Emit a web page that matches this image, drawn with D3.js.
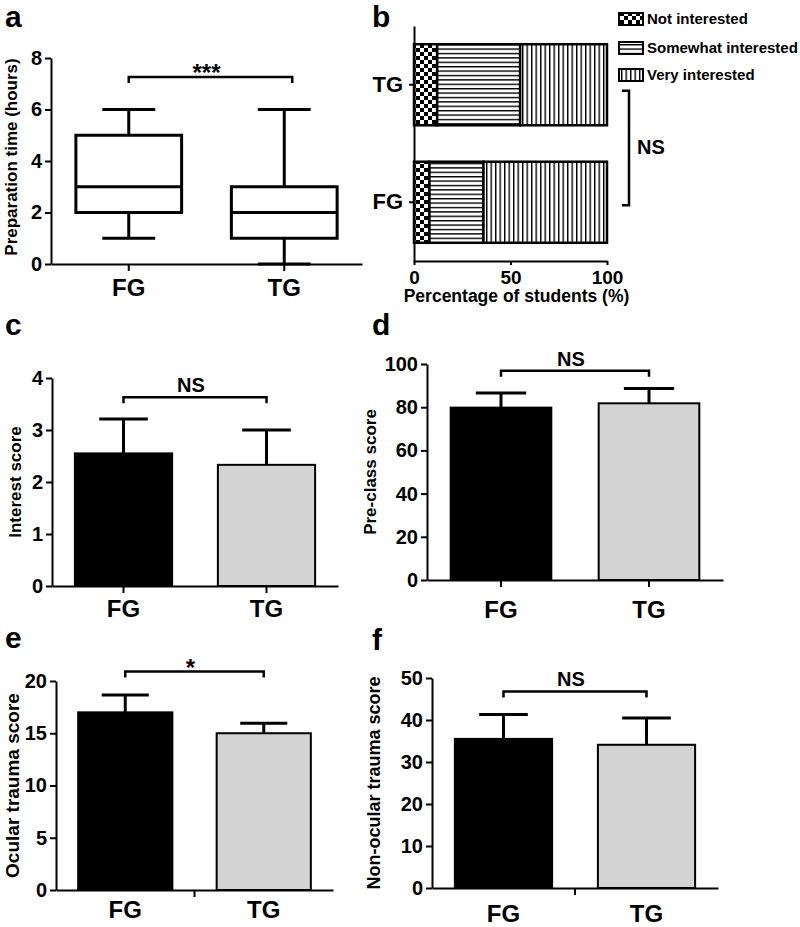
<!DOCTYPE html>
<html lang="en">
<head>
<meta charset="UTF-8">
<title>FG vs TG: preparation, interest and scores</title>
<style>
  body { margin: 0; background: #fff; }
  svg { display: block; font-family: "Liberation Sans", Arial, sans-serif; font-weight: bold; }
  .axis { font-family: "Liberation Sans", Arial, sans-serif; }
  .axis path, .axis line { stroke: #000; stroke-width: 2px; }
  .axis text { font-size: 20px; font-weight: bold; fill: #000; }
  .xcat text { font-size: 24px; }
  .ycat text { font-size: 22px; }
  .panel-label { font-size: 30px; font-weight: bold; }
  .ytitle { font-weight: bold; }
  .box, .whisker, .median { fill: none; stroke: #000; stroke-width: 3px; }
  .box { fill: #fff; }
  .bar { stroke: #000; stroke-width: 2px; }
  .err { fill: none; stroke: #000; stroke-width: 3px; }
  .bracket { fill: none; stroke: #000; stroke-width: 2.5px; }
  .seg { stroke: #000; stroke-width: 2.5px; }
  .legend text { font-size: 15px; font-weight: bold; }
</style>
</head>
<body>
<svg id="fig" width="800" height="927"></svg>
<script src="https://d3js.org/d3.v7.min.js"></script>
<script>
var groups = ["FG", "TG"];
var barFill = ["#000", "#d3d3d3"];

// a: preparation time (hours), box plot
var prepMin = [1, 0];
var prepQ1 = [2, 1];
var prepMedian = [3, 2];
var prepQ3 = [5, 3];
var prepMax = [6, 6];
var prepTicks = [0, 2, 4, 6, 8];

// b: interest level, percentage of students
var interestLevels = ["Not interested", "Somewhat interested", "Very interested"];
var interestPctFG = [8, 28, 64];
var interestPctTG = [12, 43, 45];
var pctTicks = [0, 50, 100];

// c-f: mean and SD per group
var interestMean = [2.55, 2.33];
var interestSD = [0.66, 0.67];
var interestTicks = [0, 1, 2, 3, 4];

var preClassMean = [79.8, 81.8];
var preClassSD = [6.8, 6.9];
var preClassTicks = [0, 20, 40, 60, 80, 100];

var ocularMean = [17.0, 15.0];
var ocularSD = [1.65, 0.95];
var ocularTicks = [0, 5, 10, 15, 20];

var nonOcularMean = [35.5, 34.1];
var nonOcularSD = [5.8, 6.4];
var nonOcularTicks = [0, 10, 20, 30, 40, 50];

var svg = d3.select("#fig");
var defs = svg.append("defs");
var intFmt = d3.format("d");

// fill patterns for panel b
var checker = defs.append("pattern").attr("id", "checker")
  .attr("patternUnits", "userSpaceOnUse").attr("width", 8).attr("height", 8);
checker.append("rect").attr("width", 8).attr("height", 8).attr("fill", "#fff");
checker.append("rect").attr("width", 4).attr("height", 4).attr("fill", "#000");
checker.append("rect").attr("x", 4).attr("y", 4).attr("width", 4).attr("height", 4).attr("fill", "#000");

var hlines = defs.append("pattern").attr("id", "hlines")
  .attr("patternUnits", "userSpaceOnUse").attr("width", 8).attr("height", 4.4);
hlines.append("rect").attr("width", 8).attr("height", 4.4).attr("fill", "#fff");
hlines.append("rect").attr("width", 8).attr("height", 1.4).attr("fill", "#000");

var vlines = defs.append("pattern").attr("id", "vlines")
  .attr("patternUnits", "userSpaceOnUse").attr("width", 4.5).attr("height", 8);
vlines.append("rect").attr("width", 4.5).attr("height", 8).attr("fill", "#fff");
vlines.append("rect").attr("width", 1.4).attr("height", 8).attr("fill", "#000");

var levelFill = ["url(#checker)", "url(#hlines)", "url(#vlines)"];

function panelLabel(t, x, y) {
  svg.append("text").attr("class", "panel-label").attr("x", x).attr("y", y).text(t);
}

function yTitle(t, cx, cy, size) {
  svg.append("text").attr("class", "ytitle")
    .attr("transform", "translate(" + cx + "," + cy + ") rotate(-90)")
    .attr("text-anchor", "middle").attr("dy", "0.35em")
    .style("font-size", size + "px").text(t);
}

function sigBracket(x1, x2, yy, label) {
  var star = label.indexOf("*") >= 0;
  svg.append("path").attr("class", "bracket")
    .attr("d", "M" + x1 + "," + (yy + 6) + "V" + yy + "H" + x2 + "V" + (yy + 6));
  svg.append("text").attr("x", (x1 + x2) / 2 - 4).attr("y", star ? yy + 4 : yy - 5)
    .attr("text-anchor", "middle").style("font-size", star ? "24px" : "20px").text(label);
}

function catAxis(x, y0, drop, midTick, left, right) {
  var xa = svg.append("g").attr("class", "axis xcat").attr("transform", "translate(0," + y0 + ")")
    .call(d3.axisBottom(x).tickSize(midTick ? 0 : 7).tickSizeOuter(0));
  xa.selectAll("text").attr("y", drop).attr("dy", null);
  if (midTick) {
    xa.append("line").attr("x1", (left + right) / 2).attr("x2", (left + right) / 2).attr("y2", 7);
  }
}

// ---------- a: box plot ----------
(function () {
  var left = 51, right = 362, top = 58, bottom = 264;
  var x = d3.scaleBand().domain(groups).range([left, right]).paddingInner(0.32).paddingOuter(0.16);
  var y = d3.scaleLinear().domain([0, 8]).range([bottom, top]);
  var bw = x.bandwidth();

  svg.append("g").attr("class", "axis").attr("transform", "translate(" + left + ",0)")
    .call(d3.axisLeft(y).tickValues(prepTicks).tickFormat(intFmt).tickSize(6).tickPadding(3).tickSizeOuter(0));
  catAxis(x, y(0), 32, false, left, right);

  var g = svg.append("g");
  groups.forEach(function (grp, i) {
    var cx = x(grp) + bw / 2;
    g.append("path").attr("class", "whisker")
      .attr("d", "M" + cx + "," + y(prepQ3[i]) + "V" + y(prepMax[i]) +
        "M" + (cx - bw / 4) + "," + y(prepMax[i]) + "H" + (cx + bw / 4) +
        "M" + cx + "," + y(prepQ1[i]) + "V" + y(prepMin[i]) +
        "M" + (cx - bw / 4) + "," + y(prepMin[i]) + "H" + (cx + bw / 4));
    g.append("rect").attr("class", "box")
      .attr("x", x(grp)).attr("width", bw)
      .attr("y", y(prepQ3[i])).attr("height", y(prepQ1[i]) - y(prepQ3[i]));
    g.append("path").attr("class", "median")
      .attr("d", "M" + x(grp) + "," + y(prepMedian[i]) + "H" + (x(grp) + bw));
  });

  sigBracket(x("FG") + bw / 2, x("TG") + bw / 2 + 8, y(7.26), "***");
  yTitle("Preparation time (hours)", 11, 157, 17);
  panelLabel("a", 5, 27);
})();

// ---------- b: stacked percentage bars ----------
(function () {
  var left = 414, right = 607, top = 26, bottom = 261;
  var x = d3.scaleLinear().domain([0, 100]).range([left, right]);
  var y = d3.scaleBand().domain(["TG", "FG"]).range([top, bottom]).paddingInner(0.31).paddingOuter(0.155);

  var table = [
    { group: "FG", values: interestPctFG },
    { group: "TG", values: interestPctTG }
  ].map(function (r) {
    var o = { group: r.group };
    interestLevels.forEach(function (k, j) { o[k] = r.values[j]; });
    return o;
  });
  var stacked = d3.stack().keys(interestLevels)(table);

  var g = svg.append("g");
  stacked.forEach(function (layer, j) {
    g.selectAll(null).data(layer).join("rect").attr("class", "seg")
      .attr("x", function (d) { return x(d[0]); })
      .attr("width", function (d) { return x(d[1]) - x(d[0]); })
      .attr("y", function (d) { return y(d.data.group); })
      .attr("height", y.bandwidth())
      .attr("fill", levelFill[j]);
  });

  svg.append("g").attr("class", "axis ycat").attr("transform", "translate(" + left + ",0)")
    .call(d3.axisLeft(y).tickSize(5).tickPadding(6).tickSizeOuter(0));
  var xa = svg.append("g").attr("class", "axis").attr("transform", "translate(0," + bottom + ")")
    .call(d3.axisBottom(x).tickValues(pctTicks).tickFormat(intFmt).tickSize(4).tickSizeOuter(0));
  xa.selectAll("text").attr("y", 23).attr("dy", null).style("font-size", "19px");

  svg.append("text").attr("x", (left + right) / 2 + 6).attr("y", 302)
    .attr("text-anchor", "middle").style("font-size", "17.5px").text("Percentage of students (%)");

  // legend
  var rowY = [19, 48, 75];
  var lg = svg.append("g").attr("class", "legend");
  interestLevels.forEach(function (k, j) {
    lg.append("rect").attr("class", "seg").style("stroke-width", "2px")
      .attr("x", 619).attr("y", rowY[j] - 6).attr("width", 24).attr("height", 12)
      .attr("fill", levelFill[j]);
    lg.append("text").attr("x", 647).attr("y", rowY[j] + 5).text(k);
  });

  // NS bracket between groups
  var yT = y("TG") + y.bandwidth() / 2 + 6, yF = y("FG") + y.bandwidth() / 2 + 3;
  svg.append("path").attr("class", "bracket")
    .attr("d", "M622," + yT + "H629V" + yF + "H622");
  svg.append("text").attr("x", 637).attr("y", 154).style("font-size", "20px").text("NS");

  panelLabel("b", 372, 27);
})();

// ---------- c-f: bar charts with SD ----------
function barPanel(p) {
  var x = d3.scaleBand().domain(groups).range([p.left, p.right]).paddingInner(0.32).paddingOuter(0.16);
  var y = d3.scaleLinear().domain([0, p.max]).range([p.bottom, p.top]);
  var bw = x.bandwidth();
  var g = svg.append("g");

  g.selectAll("rect.bar").data(p.mean).join("rect").attr("class", "bar")
    .attr("x", function (d, i) { return x(groups[i]); })
    .attr("width", bw)
    .attr("y", function (d) { return y(d); })
    .attr("height", function (d) { return y(0) - y(d); })
    .attr("fill", function (d, i) { return barFill[i]; });

  g.selectAll("path.err").data(p.mean).join("path").attr("class", "err")
    .attr("d", function (d, i) {
      var cx = x(groups[i]) + bw / 2, t = y(d + p.sd[i]);
      return "M" + cx + "," + y(d) + "V" + t + "M" + (cx - bw / 4) + "," + t + "H" + (cx + bw / 4);
    });

  svg.append("g").attr("class", "axis").attr("transform", "translate(" + p.left + ",0)")
    .call(d3.axisLeft(y).tickValues(p.ticks).tickFormat(intFmt).tickSize(6).tickPadding(3).tickSizeOuter(0));
  catAxis(x, y(0), p.drop, p.midTick, p.left, p.right);

  sigBracket(x("FG") + bw / 2, x("TG") + bw / 2, y(p.sigAt), p.sig);
  yTitle(p.title, p.titleX, (p.top + p.bottom) / 2, p.titleSize);
  panelLabel(p.letter, p.letterX, p.letterY);
}

barPanel({ letter: "c", letterX: 5, letterY: 335, left: 52, right: 338, top: 378, bottom: 586,
  max: 4, ticks: interestTicks, mean: interestMean, sd: interestSD, drop: 31, midTick: false,
  sig: "NS", sigAt: 3.63, title: "Interest score", titleX: 15, titleSize: 17 });

barPanel({ letter: "d", letterX: 372, letterY: 335, left: 427, right: 723, top: 364, bottom: 580,
  max: 100, ticks: preClassTicks, mean: preClassMean, sd: preClassSD, drop: 38, midTick: false,
  sig: "NS", sigAt: 96.9, title: "Pre-class score", titleX: 370, titleSize: 17 });

barPanel({ letter: "e", letterX: 5, letterY: 648, left: 56, right: 333, top: 681, bottom: 890,
  max: 20, ticks: ocularTicks, mean: ocularMean, sd: ocularSD, drop: 28, midTick: true,
  sig: "*", sigAt: 20.9, title: "Ocular trauma score", titleX: 12, titleSize: 19 });

barPanel({ letter: "f", letterX: 372, letterY: 650, left: 432, right: 718, top: 678, bottom: 888,
  max: 50, ticks: nonOcularTicks, mean: nonOcularMean, sd: nonOcularSD, drop: 34, midTick: true,
  sig: "NS", sigAt: 46.8, title: "Non-ocular trauma score", titleX: 374, titleSize: 18 });
</script>
</body>
</html>
